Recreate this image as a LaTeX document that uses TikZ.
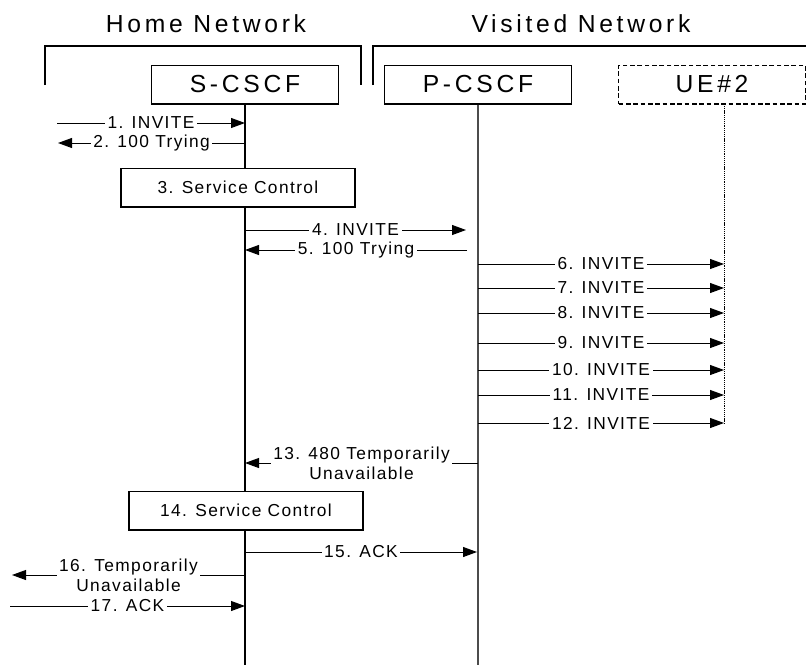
\documentclass[tikz,border=0pt]{standalone}
\usepackage{fontspec}
\setmainfont{Liberation Sans}
\newfontfamily\headfont[LetterSpace=15]{Liberation Sans}
\newfontfamily\msgfont[LetterSpace=8]{Liberation Sans}
\usetikzlibrary{arrows.meta}
\begin{document}
\begin{tikzpicture}[x=0.75pt,y=-0.75pt,
  every node/.style={font=\msgfont\fontsize{13pt}{15pt}\selectfont},
  title/.style={font=\headfont\fontsize{18.5pt}{22pt}\selectfont},
  entity/.style={draw,line width=1pt,minimum width=140pt,minimum height=29pt,inner sep=0pt,font=\headfont\fontsize{18.5pt}{22pt}\selectfont},
  ctrl/.style={draw,fill=white,line width=1pt,minimum width=175.5pt,minimum height=29pt,inner sep=0pt},
  msg/.style={-{Triangle[length=10.5pt,width=7.5pt]},line width=0.7pt},
  lbl/.style={fill=white,inner xsep=2pt,inner ysep=1pt,align=center},
  frame/.style={line width=1pt},
  life/.style={line width=0.8pt}]
\useasboundingbox (0,0) rectangle (806,665);
% networks
\node[title] (home) at (206,24) {Home Network};
\node[title] (visited) at (581,24) {Visited Network};
\draw[frame] (45,85) -- (45,46) -- (361,46) -- (361,85);
\draw[frame] (373,85) -- (373,46) -- (806,46);
% entities
\node[entity] (scscf) at (245,84.5) {S-CSCF};
\node[entity] (pcscf) at (478,84.5) {P-CSCF};
\node[entity,dash pattern=on 3.5pt off 2pt] (ue) at (712,84.5) {UE\#2};
\coordinate (sEnd) at (245,665);
\coordinate (pEnd) at (478,665);
\coordinate (ueTop) at (724,104);
\coordinate (ueEnd) at (724,425);
\draw[life] (scscf.south) -- (sEnd);
\draw[life,black!70] (pcscf.south) -- (pEnd);
\draw[line width=0.6pt,dash pattern=on 0.8pt off 0.6pt] (ueTop) -- (ueEnd);
% service control
\node[ctrl] (sc3) at (238,187.5) {3. Service Control};
\node[ctrl] (sc14) at (246,510.5) {14. Service Control};
% messages
\coordinate (m1a) at (57,123);  \coordinate (m1b) at (245,123);
\draw[msg] (m1a) -- node[lbl]{1. INVITE} (m1b);
\coordinate (m2a) at (245,143); \coordinate (m2b) at (58,143);
\draw[msg] (m2a) -- node[lbl]{2. 100 Trying} (m2b);
\coordinate (m4a) at (245,230); \coordinate (m4b) at (466,230);
\draw[msg] (m4a) -- node[lbl]{4. INVITE} (m4b);
\coordinate (m5a) at (467,250); \coordinate (m5b) at (245,250);
\draw[msg] (m5a) -- node[lbl]{5. 100 Trying} (m5b);
\coordinate (m6a) at (478,264); \coordinate (m6b) at (724,264);
\draw[msg] (m6a) -- node[lbl]{6. INVITE} (m6b);
\coordinate (m7a) at (478,288); \coordinate (m7b) at (724,288);
\draw[msg] (m7a) -- node[lbl]{7. INVITE} (m7b);
\coordinate (m8a) at (478,313); \coordinate (m8b) at (724,313);
\draw[msg] (m8a) -- node[lbl]{8. INVITE} (m8b);
\coordinate (m9a) at (478,343); \coordinate (m9b) at (724,343);
\draw[msg] (m9a) -- node[lbl]{9. INVITE} (m9b);
\coordinate (m10a) at (478,370); \coordinate (m10b) at (724,370);
\draw[msg] (m10a) -- node[lbl]{10. INVITE} (m10b);
\coordinate (m11a) at (478,395); \coordinate (m11b) at (724,395);
\draw[msg] (m11a) -- node[lbl]{11. INVITE} (m11b);
\coordinate (m12a) at (478,423); \coordinate (m12b) at (724,423);
\draw[msg] (m12a) -- node[lbl]{12. INVITE} (m12b);
\coordinate (m13a) at (478,463); \coordinate (m13b) at (245,463);
\draw[msg] (m13a) -- node[lbl]{13. 480 Temporarily\\Unavailable} (m13b);
\coordinate (m15a) at (245,552); \coordinate (m15b) at (477,552);
\draw[msg] (m15a) -- node[lbl]{15. ACK} (m15b);
\coordinate (m16a) at (245,575); \coordinate (m16b) at (12,575);
\draw[msg] (m16a) -- node[lbl]{16. Temporarily\\Unavailable} (m16b);
\coordinate (m17a) at (10,606); \coordinate (m17b) at (245,606);
\draw[msg] (m17a) -- node[lbl]{17. ACK} (m17b);
\end{tikzpicture}
\end{document}
